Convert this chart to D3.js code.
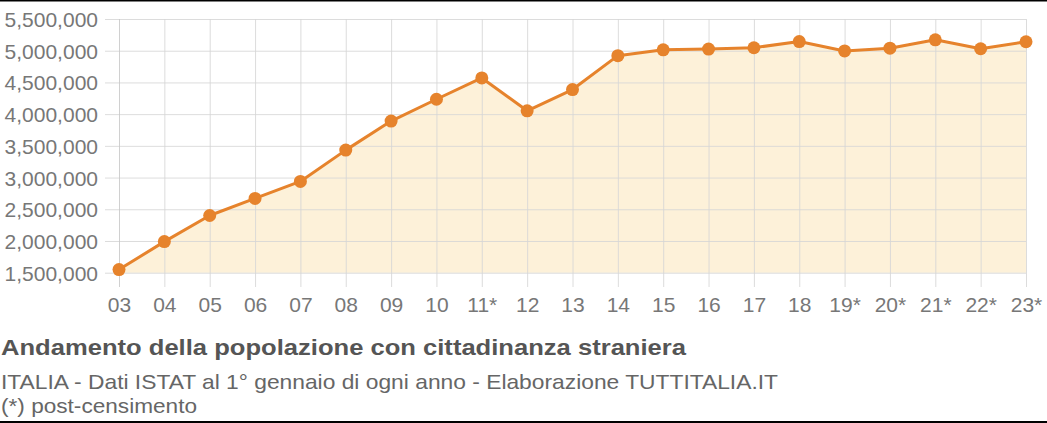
<!DOCTYPE html>
<html><head><meta charset="utf-8">
<script src="https://cdn.jsdelivr.net/npm/d3@7/dist/d3.min.js"></script>
<style>html,body{margin:0;padding:0;background:#fff;overflow:hidden}svg{display:block}</style>
</head><body>
<script>
const years = ["03","04","05","06","07","08","09","10","11*","12","13","14","15","16","17","18","19*","20*","21*","22*","23*"];
const population = [1549373,1990159,2402157,2670514,2938922,3432651,3891295,4235059,4570317,4052081,4387721,4922085,5014437,5026153,5047028,5144440,4996158,5039637,5171894,5030716,5141341];
const yTicks = [1500000,2000000,2500000,3000000,3500000,4000000,4500000,5000000,5500000];
const title = "Andamento della popolazione con cittadinanza straniera";
const subtitle = "ITALIA - Dati ISTAT al 1° gennaio di ogni anno - Elaborazione TUTTITALIA.IT";
const note = "(*) post-censimento";

const W = 1047, H = 423;
const svg = d3.select("body").append("svg").attr("width", W).attr("height", H);
const font = "'Liberation Sans', Arial, sans-serif";

const x = d3.scalePoint().domain(years).range([119, 1026]);
const y = d3.scaleLinear().domain([1500000, 5500000]).range([272.7, 19]);

// area
const area = d3.area().x((d,i)=>x(years[i])).y0(y(1500000)).y1(d=>y(d));
svg.append("path").datum(population).attr("d", area).attr("fill", "#fdf1d9");

// horizontal grid + y labels
const yAxis = d3.axisLeft(y).tickValues(yTicks).tickSize(-(1026-105)).tickPadding(7)
  .tickFormat(d3.format(","));
const gy = svg.append("g").attr("transform", "translate(1026,0)").call(g=>{
  g.call(yAxis.tickSize(1026-105).tickPadding(0));
});
gy.select(".domain").remove();
gy.selectAll(".tick line").attr("stroke", "#d6d6d6").attr("stroke-opacity", 0.85).attr("x1", 0).attr("x2", -(1026-105));
gy.selectAll(".tick text").attr("x", -(1026-98)).attr("fill", "#777").attr("font-size", 21).attr("font-family", font).attr("text-anchor", "end").attr("dy", "0.36em");

// vertical grid + x labels
const xAxis = d3.axisBottom(x).tickSize(287-19).tickPadding(6);
const gx = svg.append("g").attr("transform", "translate(0,19)").call(xAxis);
gx.select(".domain").remove();
gx.selectAll(".tick line").attr("stroke", (d,i)=> i===0 ? "#c8c8c8" : "#d6d6d6").attr("stroke-opacity", 0.85);
gx.selectAll(".tick text").attr("fill", "#777").attr("font-size", 21).attr("font-family", font).attr("y", 0).attr("dy", 0)
  .attr("transform", `translate(0,${311.5-19})`);

// line
const line = d3.line().x((d,i)=>x(years[i])).y(d=>y(d));
svg.append("path").datum(population).attr("d", line).attr("fill", "none").attr("stroke", "#e6832c").attr("stroke-width", 3).attr("stroke-linejoin", "round");
svg.append("g").selectAll("circle").data(population).join("circle")
  .attr("cx", (d,i)=>x(years[i])).attr("cy", d=>y(d)).attr("r", 6.5).attr("fill", "#e6832c");

// texts
function fitText(txt, xPos, yPos, size, weight, color, target) {
  const t = svg.append("text").attr("x", xPos).attr("y", yPos).attr("font-family", font)
    .attr("font-size", size).attr("font-weight", weight).attr("fill", color).text(txt);
  const w = t.node().getComputedTextLength();
  if (target && w > 0) t.attr("textLength", target).attr("lengthAdjust", "spacingAndGlyphs");
  return t;
}
fitText(title, 1, 354.5, 22, "bold", "#555", 685);
fitText(subtitle, 1, 388.5, 21, "normal", "#666", 777);
fitText(note, 1, 412.5, 21, "normal", "#666", 196);

// border lines
svg.append("rect").attr("x", 0).attr("y", 0).attr("width", W).attr("height", 1.5).attr("fill", "#000");
svg.append("rect").attr("x", 0).attr("y", 421).attr("width", W).attr("height", 2).attr("fill", "#000");
</script>
</body></html>
